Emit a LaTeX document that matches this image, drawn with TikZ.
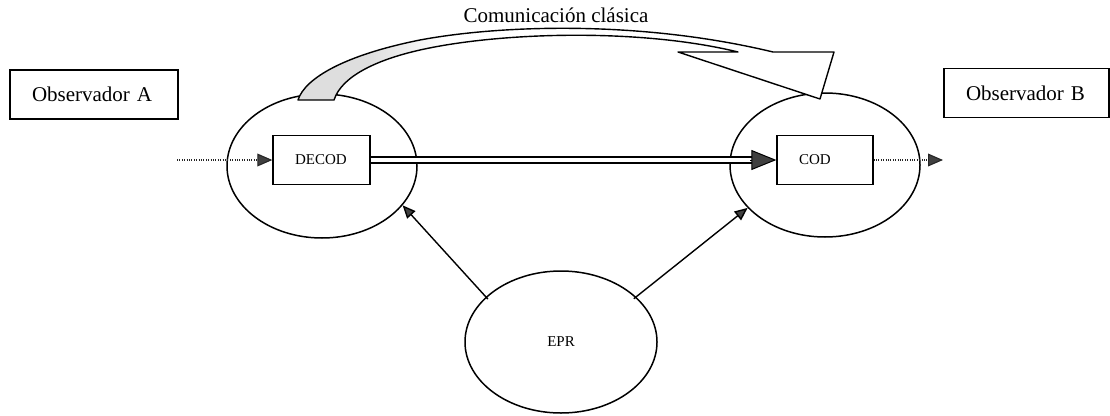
\documentclass[tikz,border=0pt]{standalone}
\usepackage{fontspec}
\setmainfont{Liberation Serif}
\usetikzlibrary{shapes.geometric, arrows.meta, calc}

\tikzset{
  bigfont/.style={font=\fontsize{21}{24}\selectfont},
  smallfont/.style={font=\fontsize{15}{18}\selectfont},
  obsbox/.style={draw, line width=1.3pt, bigfont, minimum height=49pt,
    inner xsep=22pt, text width=#1, align=left},
  unitbox/.style={draw, line width=1.3pt, smallfont, minimum height=49pt,
    inner xsep=22pt, text width=#1, align=left},
  station/.style={draw, ellipse, line width=1.5pt, inner sep=0pt,
    minimum width=190pt, minimum height=144pt},
  tiphead/.style={-{Triangle[length=#1, width=0.85*#1, fill=black!75]}},
  feed/.style={line width=1.1pt, draw=black!85, dash pattern=on 1pt off 1.4pt,
    tiphead=15pt},
  link/.style={line width=1.4pt, tiphead=13pt, shorten <=-3pt},
  channel/.style={line width=1.3pt, double, double distance=4.5pt, shorten >=23pt},
  bigtip/.style={line width=1pt, -{Triangle[length=25pt, width=20pt, fill=black!75]}},
  commarrow/.style={draw, line width=1.4pt, fill=white, line join=round}
}

\begin{document}
\begin{tikzpicture}[x=1pt, y=-1pt]
  \useasboundingbox (0,0) rectangle (1110,415);

  % observers
  \node[obsbox=124pt] (obsA) at (94,94.5) {Observador A};
  \node[obsbox=121pt] (obsB) at (1026.5,93) {Observador B};

  % stations and the entangled source
  \node[station] (L) at (322,166) {};
  \node[station] (R) at (825,165) {};
  \node[station, minimum width=192pt, minimum height=142pt, smallfont] (EPR) at (561,342) {EPR};

  % processing units
  \node[unitbox=53pt] (decod) at (321.5,160) {DECOD};
  \node[unitbox=52pt] (cod) at (825,160) {COD};

  % input and output
  \coordinate (inA) at (177,160);
  \coordinate (outB) at (943,160);
  \draw[feed] (inA) -- (decod.west);
  \draw[feed] (cod.east) -- (outB);

  % quantum channel
  \draw[channel] (decod.east) -- (cod.west);
  \draw[bigtip] ($(cod.west)+(-26,0)$) -- (cod.west);

  % shared pairs
  \draw[link] (EPR.149) -- (L.-26);
  \draw[link] (EPR.31) -- (R.209);

  % classical communication
  \draw[commarrow, path picture={
      \fill[black!13] (290,15) rectangle (368,105);
      \shade[left color=black!13, right color=white] (367,15) rectangle (445,105);
    }]
    (298,100) .. controls (305,78) and (345,55) .. (420,40)
    .. controls (500,25) and (640,20) .. (773,52)
    -- (834,52) -- (820,99) -- (678,52) -- (738,52)
    .. controls (640,28) and (500,32) .. (420,50)
    .. controls (380,59) and (342,75) .. (334,100)
    -- cycle;
  \node[bigfont] (comm) at (556,15) {Comunicación clásica};
\end{tikzpicture}
\end{document}
